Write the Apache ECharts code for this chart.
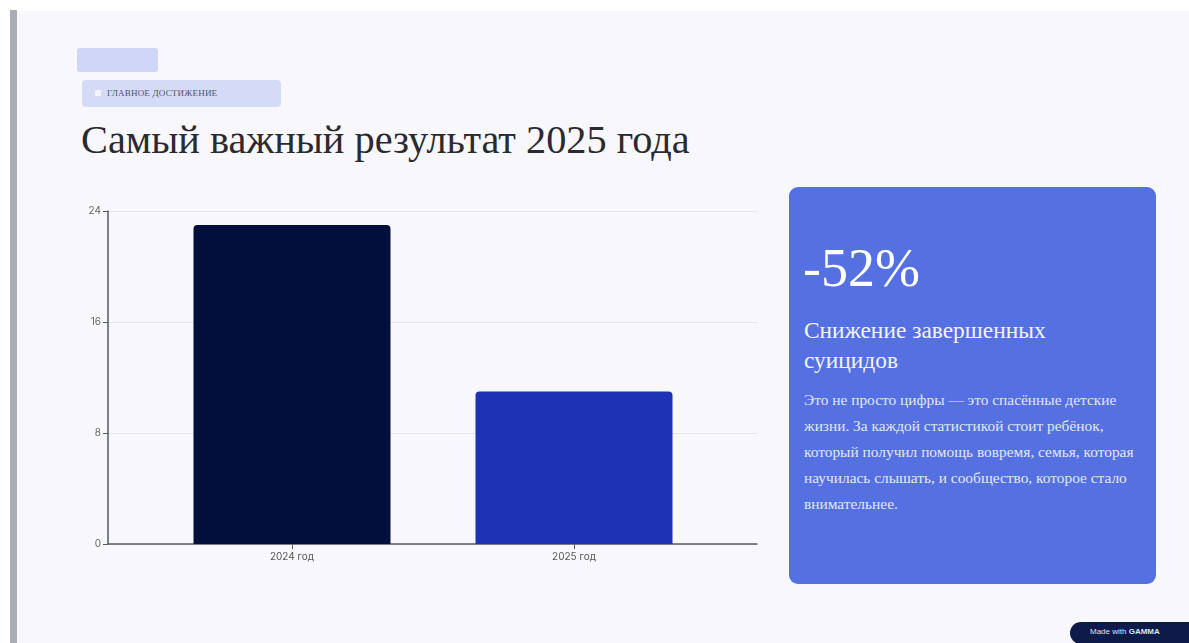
<!DOCTYPE html>
<html>
<head>
<meta charset="utf-8">
<script src="https://cdn.jsdelivr.net/npm/echarts@6/dist/echarts.min.js"></script>
<style>
  html, body { margin: 0; padding: 0; width: 1189px; height: 643px; overflow: hidden; background: #ffffff; }
  #panel { position: absolute; left: 17px; top: 11px; width: 1172px; height: 632px; background: #f8f8fc; }
  #edge { position: absolute; left: 10px; top: 10px; width: 7px; height: 633px; background: #a9adb6; }
  #chart { position: absolute; left: 0; top: 0; width: 1189px; height: 643px; }
  .serif { font-family: "Liberation Serif", "DejaVu Serif", serif; }
  #tag0 { position: absolute; left: 77px; top: 48px; width: 81px; height: 24px; background: #d0d6f7; border-radius: 3px; }
  #tag { position: absolute; left: 82px; top: 80px; width: 199px; height: 27px; background: #d5daf6; border-radius: 4px; }
  #tag .ico { position: absolute; left: 13px; top: 10px; width: 6px; height: 6px; background: #f4f5fc; border-radius: 1px; }
  #tag .txt { position: absolute; left: 25px; top: 8px; font-size: 9px; color: #4e5370; letter-spacing: 0.2px; white-space: nowrap; }
  #title { position: absolute; left: 81px; top: 116px; font-size: 40.3px; color: #2a2a30; white-space: nowrap; }
  #card { position: absolute; left: 789px; top: 187px; width: 367px; height: 397px; background: #5570e0; border-radius: 9px; }
  #big { position: absolute; left: 14px; top: 50px; font-size: 54px; color: #ffffff; white-space: nowrap; }
  #head { position: absolute; left: 15px; top: 128px; white-space: nowrap; font-size: 23.4px; line-height: 30px; color: #f3f4ff; }
  #body { position: absolute; left: 15px; top: 200px; white-space: nowrap; font-size: 15.4px; line-height: 26px; color: #e3e7fb; }
  #badge { position: absolute; left: 1070px; top: 622px; width: 130px; height: 22px; background: #0e1a4a; border-radius: 11px 0 0 11px; }
  #badge span { position: absolute; left: 20px; top: 5px; font-family: "Liberation Sans", sans-serif; font-size: 8px; color: #dfe3f5; white-space: nowrap; }
</style>
</head>
<body>
<div id="panel"></div>
<div id="edge"></div>
<div id="tag0"></div>
<div id="tag"><div class="ico"></div><div class="txt serif">ГЛАВНОЕ ДОСТИЖЕНИЕ</div></div>
<div id="title" class="serif">Самый важный результат 2025 года</div>
<div id="chart"></div>
<div id="card">
  <div id="big" class="serif">-52%</div>
  <div id="head" class="serif">Снижение завершенных<br>суицидов</div>
  <div id="body" class="serif">Это не просто цифры — это спасённые детские<br>жизни. За каждой статистикой стоит ребёнок,<br>который получил помощь вовремя, семья, которая<br>научилась слышать, и сообщество, которое стало<br>внимательнее.</div>
</div>
<div id="badge"><span>Made with <b>GAMMA</b></span></div>
<script>
const categories = ["2024 год", "2025 год"];
const values = [23, 11];
const barColors = ["#020f3d", "#1d32b5"];
const yMax = 24;
const yStep = 8;

const chart = echarts.init(document.getElementById('chart'), null, { renderer: 'canvas' });
const axisColor = '#555a60';
const labelFont = 'Inter, "Noto Sans", sans-serif';
chart.setOption({
  backgroundColor: 'transparent',
  animation: false,
  grid: [
    { left: 108, right: 432, top: 211, bottom: 99 },
    { left: 151, right: 474, top: 211, bottom: 99 }
  ],
  xAxis: [
    {
      gridIndex: 0, type: 'value', min: 0, max: 1,
      splitLine: { show: false }, axisTick: { show: false }, axisLabel: { show: false },
      axisLine: { show: true, lineStyle: { color: axisColor, width: 1.5 } }
    },
    {
      gridIndex: 1, type: 'category', data: categories,
      axisLine: { show: false },
      axisTick: { show: true, alignWithLabel: true, length: 5, lineStyle: { color: axisColor } },
      axisLabel: { color: '#555', fontSize: 10, fontFamily: labelFont, margin: 8 }
    }
  ],
  yAxis: [
    {
      gridIndex: 0, type: 'value', min: 0, max: yMax, interval: yStep,
      axisLine: { show: true, lineStyle: { color: axisColor, width: 1.5 } },
      axisTick: { show: true, length: 5, lineStyle: { color: axisColor } },
      axisLabel: { color: '#666', fontSize: 10, fontFamily: labelFont, margin: 7 },
      splitLine: { show: true, lineStyle: { color: '#e4e5ee', width: 1 } }
    },
    {
      gridIndex: 1, type: 'value', min: 0, max: yMax, interval: yStep, show: false,
      splitLine: { show: false }
    }
  ],
  series: [{
    type: 'bar',
    xAxisIndex: 1, yAxisIndex: 1,
    barWidth: 197,
    data: values.map((v, i) => ({ value: v, itemStyle: { color: barColors[i], borderRadius: [4, 4, 0, 0] } }))
  }]
});
</script>
</body>
</html>
